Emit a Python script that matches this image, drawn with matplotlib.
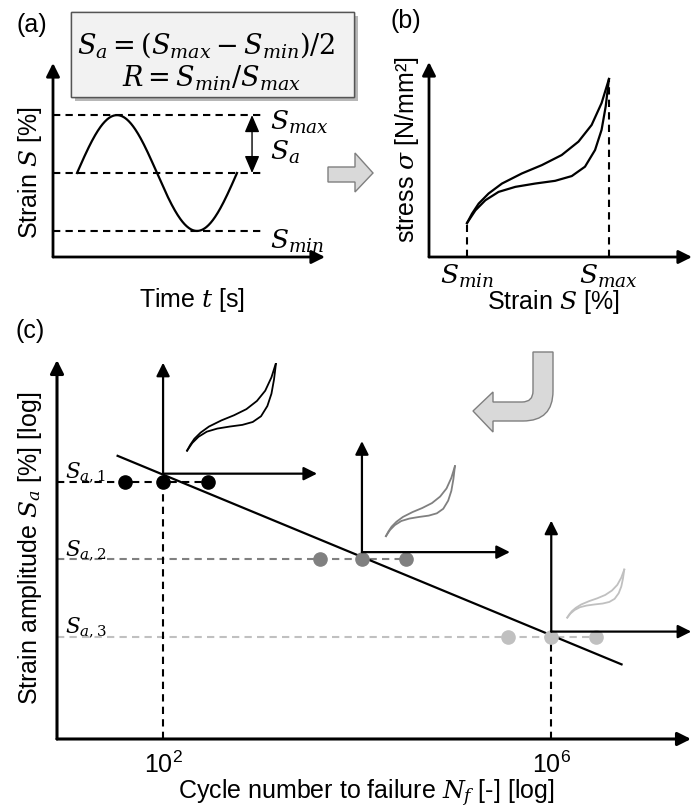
import numpy as np
import matplotlib
matplotlib.use('Agg')
import matplotlib.pyplot as plt
from matplotlib.patches import Rectangle, Polygon, PathPatch
from matplotlib.path import Path
from matplotlib.ticker import NullLocator
import matplotlib.patheffects as pe

plt.rcParams['font.family'] = ['Liberation Sans', 'DejaVu Sans']
plt.rcParams['mathtext.fontset'] = 'dejavuserif'

# (a) strain signal
S_max = 1.0
S_min = 0.2
t_start = 0.15
period = 1.0

# (b) hysteresis loop (normalised strain / stress)
loop_up_x = [0, 0.035, 0.082, 0.152, 0.246, 0.386, 0.527, 0.667, 0.785, 0.878, 0.948, 1.0]
loop_up_y = [0, 0.065, 0.135, 0.205, 0.274, 0.344, 0.402, 0.472, 0.565, 0.681, 0.833, 1.0]
loop_lo_x = [0, 0.059, 0.129, 0.222, 0.340, 0.480, 0.621, 0.738, 0.831, 0.902, 0.948, 0.977, 1.0]
loop_lo_y = [0, 0.088, 0.158, 0.216, 0.251, 0.274, 0.293, 0.326, 0.391, 0.507, 0.647, 0.810, 1.0]

# (c) strain amplitude levels and cycles to failure
Sa_levels = [1.0, 0.5, 0.25]
Sa_names = ['$S_{a,1}$', '$S_{a,2}$', '$S_{a,3}$']
Nf_fail = [1e2, 1.12e4, 1e6]
Nf_low = [41, 4.1e3, 3.6e5]
Nf_high = [290, 3.2e4, 2.9e6]
level_colors = ['black', '#808080', '#c0c0c0']
N_line = [34, 5.3e6]
Sa_line = [1.26, 0.195]
xtick_vals = [1e2, 1e6]
xtick_labels = [r'$\mathregular{10^2}$', r'$\mathregular{10^6}$']

W, H = 694, 811
fig = plt.figure(figsize=(W / 100, H / 100), dpi=100)


def box(x0, y0, x1, y1):
    return [x0 / W, 1 - y1 / H, (x1 - x0) / W, (y1 - y0) / H]


def ftext(x, y, s, **kw):
    fig.text(x / W, 1 - y / H, s, ha=kw.pop('ha', 'center'), va=kw.pop('va', 'center'), **kw)


def arrow_axes(ax, lw=2.0, head='-|>,head_length=0.8,head_width=0.4'):
    for end in [(1, 0), (0, 1)]:
        ax.annotate('', xy=end, xytext=(0, 0), xycoords='axes fraction',
                    arrowprops=dict(arrowstyle=head, lw=lw, color='k',
                                    shrinkA=0, shrinkB=0),
                    annotation_clip=False)


# overlay for labels, box and block arrows (pixel coordinates)
ov = fig.add_axes([0, 0, 1, 1])
ov.set_xlim(0, W)
ov.set_ylim(H, 0)
ov.axis('off')

rect = Rectangle((71, 12), 283, 85, facecolor='#f2f2f2', edgecolor='#555555', lw=1.0)
rect.set_path_effects([pe.withSimplePatchShadow(offset=(3, -3), shadow_rgbFace='#888888', alpha=0.6),
                       pe.Normal()])
ov.add_patch(rect)

ov.add_patch(Polygon([(328, 167), (355, 167), (355, 153), (373, 173), (355, 192),
                      (355, 182), (328, 182)], closed=True,
                     facecolor='#d9d9d9', edgecolor='#7f7f7f', lw=1))

verts = [(553, 352), (553, 391), (553, 421), (523, 421), (493, 421), (493, 432),
         (473, 411), (493, 392), (493, 402), (522, 402), (533, 402), (533, 391),
         (533, 352), (553, 352)]
codes = [Path.MOVETO, Path.LINETO, Path.CURVE3, Path.CURVE3, Path.LINETO, Path.LINETO,
         Path.LINETO, Path.LINETO, Path.LINETO, Path.LINETO, Path.CURVE3, Path.CURVE3,
         Path.LINETO, Path.CLOSEPOLY]
ov.add_patch(PathPatch(Path(verts, codes), facecolor='#d9d9d9', edgecolor='#7f7f7f', lw=1))

ftext(32, 25, '(a)', fontsize=18)
ftext(406, 21, '(b)', fontsize=18)
ftext(30, 331, '(c)', fontsize=18)
ftext(206, 45, r'$S_a=(S_{max}-S_{min})/2$', fontsize=19.5)
ftext(211, 78, r'$R=S_{min}/S_{max}$', fontsize=19.5)

# ---------- (a) ----------
axa = fig.add_axes(box(53, 63, 325, 257))
axa.set_xlim(0, 1.7)
axa.set_ylim(0.02, 1.36)
axa.axis('off')
arrow_axes(axa)
S_mean = (S_max + S_min) / 2
S_amp = (S_max - S_min) / 2
t = np.linspace(t_start, t_start + period, 300)
axa.plot(t, S_mean + S_amp * np.sin(2 * np.pi * (t - t_start) / period), color='k', lw=1.6)
for lev in [S_max, S_mean, S_min]:
    axa.plot([0, 1.31], [lev, lev], color='k', lw=1.5, ls=(0, (3.5, 2.5)))
axa.annotate('', xy=(1.244, S_max), xytext=(1.244, S_mean),
             arrowprops=dict(arrowstyle='<|-|>,head_length=0.7,head_width=0.3',
                             mutation_scale=15, lw=1.0, color='k', shrinkA=0, shrinkB=0))
axa.text(1.356, S_max - 0.05, '$S_{max}$', fontsize=19, va='center', ha='left')
axa.text(1.356, S_mean + 0.14, '$S_a$', fontsize=19, va='center', ha='left')
axa.text(1.356, S_min - 0.075, '$S_{min}$', fontsize=19, va='center', ha='left')
ftext(30, 173, 'Strain $S$ [%]', fontsize=18, rotation=90)
ftext(192, 300, 'Time $t$ [s]', fontsize=18)

# ---------- (b) ----------
axb = fig.add_axes(box(429, 62, 692, 257))
axb.set_xlim(-0.268, 1.585)
axb.set_ylim(-0.236, 1.118)
axb.axis('off')
arrow_axes(axb)
axb.plot(loop_up_x, loop_up_y, color='k', lw=1.6, solid_joinstyle='round')
axb.plot(loop_lo_x, loop_lo_y, color='k', lw=1.6, solid_joinstyle='round')
axb.plot([0, 0], [-0.236, 0], color='k', lw=1.5, ls=(0, (3.5, 2.5)))
axb.plot([1, 1], [-0.236, 1], color='k', lw=1.5, ls=(0, (3.5, 2.5)))
ftext(467, 276, '$S_{min}$', fontsize=19)
ftext(608, 276, '$S_{max}$', fontsize=19)
ftext(407, 150, 'stress $\\sigma$ [N/mm²]', fontsize=18, rotation=90)
ftext(553, 302, 'Strain $S$ [%]', fontsize=18)

# ---------- (c) ----------
axc = fig.add_axes(box(57, 360, 691, 739))
axc.set_xscale('log')
axc.set_yscale('log')
axc.set_xlim(10 ** 0.907, 10 ** 7.44)
axc.set_ylim(0.1, 2.97)
for sp in axc.spines.values():
    sp.set_visible(False)
axc.set_facecolor('none')
axc.xaxis.set_minor_locator(NullLocator())
axc.yaxis.set_minor_locator(NullLocator())
axc.set_yticks([])
axc.set_xticks(xtick_vals, labels=xtick_labels)
axc.tick_params(axis='x', length=0, pad=9, labelsize=18)
arrow_axes(axc, lw=2.2)

axc.plot(N_line, Sa_line, color='k', lw=1.6, zorder=3)
for i, sa in enumerate(Sa_levels):
    c = level_colors[i]
    axc.plot([10 ** 0.907, Nf_high[i]], [sa, sa], color=c, lw=1.5, ls=(0, (3.5, 2.5)), zorder=2)
    axc.plot([Nf_low[i], Nf_fail[i], Nf_high[i]], [sa, sa, sa], 'o', color=c, ms=9.5, zorder=4)
    axc.annotate(Sa_names[i], xy=(0, sa), xycoords=('axes fraction', 'data'),
                 xytext=(6, 6.5), textcoords='offset points', fontsize=15.5, va='center', ha='left')
for i in [0, 2]:
    axc.plot([Nf_fail[i], Nf_fail[i]], [0.1, Sa_levels[i]], color='k', lw=1.5, ls=(0, (3.5, 2.5)), zorder=2)

ftext(30, 548, 'Strain amplitude $S_a$ [%] [log]', fontsize=18, rotation=90)
ftext(366, 793, 'Cycle number to failure $N_f$ [-] [log]', fontsize=18)

# insets: small hysteresis loops above each failure point
inset_w = [154, 148, 140]
inset_h = 111
inset_lift = [8, 7, 5]
loop_off = [(24, 23), (24, 16), (16, 14)]
loop_size = [(89, 88), (69, 70), (57, 48)]
for i in range(3):
    ox, oy = axc.transData.transform((Nf_fail[i], Sa_levels[i]))
    oy = oy + inset_lift[i]
    axi = fig.add_axes([ox / W, oy / H, inset_w[i] / W, inset_h / H])
    axi.set_xlim(0, inset_w[i])
    axi.set_ylim(0, inset_h)
    axi.axis('off')
    arrow_axes(axi, lw=1.6)
    dx, dy = loop_off[i]
    sx, sy = loop_size[i]
    for lx, ly in [(loop_up_x, loop_up_y), (loop_lo_x, loop_lo_y)]:
        axi.plot(dx + sx * np.array(lx), dy + sy * np.array(ly), color=level_colors[i],
                 lw=1.3, solid_joinstyle='round')

fig.savefig('out.png', dpi=100)
